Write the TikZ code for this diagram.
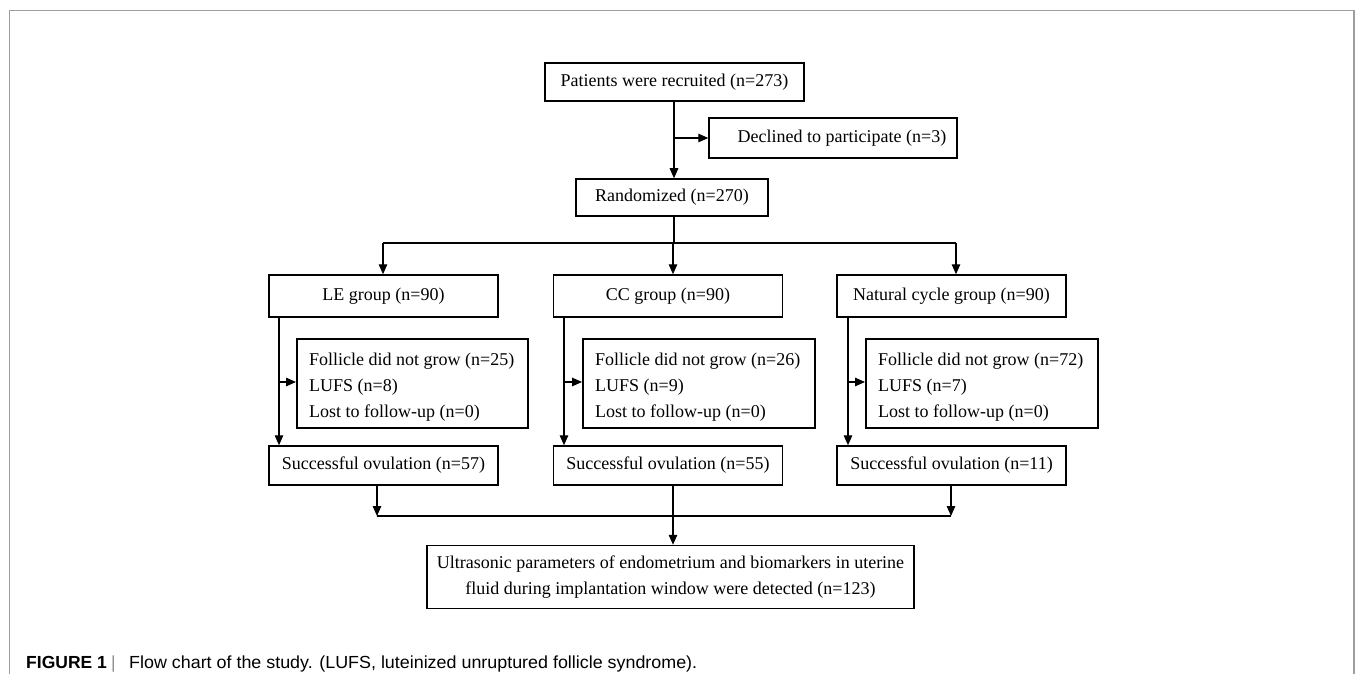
\documentclass[tikz,border=0pt]{standalone}
\usepackage{fontspec}
\setmainfont{Liberation Serif}
\newfontfamily\capfont{Liberation Sans}
\usetikzlibrary{arrows.meta}
\begin{document}
\begin{tikzpicture}[x=1pt,y=-1pt,
  box/.style={draw=black,line width=1.5pt,inner sep=0pt,font=\fontsize{18}{26}\selectfont},
  listtext/.style={anchor=west,align=left,inner sep=0pt,font=\fontsize{18}{26}\selectfont},
  conn/.style={line width=1.4pt,draw=black},
  arr/.style={conn,-{Triangle[length=10pt,width=8.5pt]}},
  frame/.style={draw=black!38,line width=1.6pt}]
\useasboundingbox (0,0) rectangle (1355,674);
\fill[white] (0,0) rectangle (1355,674);
\draw[frame] (9.5,674) -- (9.5,10.5) -- (1354,10.5) -- (1354,674);

% top part
\node[box,minimum width=259pt,minimum height=38pt] (pat) at (674.5,82) {Patients were recruited (n=273)};
\node[box,minimum width=248pt,minimum height=40pt] (dec) at (833,138) {\hspace*{18pt}Declined to participate (n=3)};
\node[box,minimum width=192pt,minimum height=37pt] (ran) at (672,197.5) {Randomized (n=270)};

% groups
\node[box,minimum width=229pt,minimum height=42pt] (le) at (383.5,296) {LE group (n=90)};
\node[box,minimum width=229pt,minimum height=42pt] (cc) at (668,296) {CC group (n=90)};
\node[box,minimum width=229pt,minimum height=42pt] (nc) at (951.5,296) {Natural cycle group (n=90)};

% exclusion boxes
\node[box,anchor=north west,minimum width=231pt,minimum height=89pt] (lex) at (296,338) {};
\node[listtext] (lext) at (309,387) {Follicle did not grow (n=25)\\LUFS (n=8)\\Lost to follow-up (n=0)};
\node[box,anchor=north west,minimum width=232pt,minimum height=89pt] (ccx) at (582,338) {};
\node[listtext] (ccxt) at (595,387) {Follicle did not grow (n=26)\\LUFS (n=9)\\Lost to follow-up (n=0)};
\node[box,anchor=north west,minimum width=232pt,minimum height=89pt] (ncx) at (865,338) {};
\node[listtext] (ncxt) at (878,387) {Follicle did not grow (n=72)\\LUFS (n=7)\\Lost to follow-up (n=0)};

% successful
\node[box,minimum width=229pt,minimum height=39pt] (les) at (383.5,465.5) {Successful ovulation (n=57)};
\node[box,minimum width=229pt,minimum height=39pt] (ccs) at (668,465.5) {Successful ovulation (n=55)};
\node[box,minimum width=229pt,minimum height=39pt] (ncs) at (951.5,465.5) {Successful ovulation (n=11)};

% final
\node[box,minimum width=487pt,minimum height=63pt,align=center] (fin) at (670.5,577) {Ultrasonic parameters of endometrium and biomarkers in uterine\\fluid during implantation window were detected (n=123)};

% coordinates
\coordinate (pb) at (674,101);
\coordinate (dj) at (674,138);
\coordinate (rb) at (674,216);
\coordinate (bj) at (674,243);
\coordinate (bl) at (383,243);
\coordinate (bm) at (673,243);
\coordinate (br) at (956,243);
\coordinate (lt) at (377,485);
\coordinate (mt) at (673,485);
\coordinate (rt) at (951,485);
\coordinate (lb) at (377,516);
\coordinate (rbb) at (951,516);

% connectors top
\draw[arr] (pb) -- (pb |- ran.north);
\draw[arr] (dj) -- (dj -| dec.west);
\draw[conn] (rb) -- (bj);
\draw[conn] (bl) -- (br);
\draw[arr] (bl) -- (bl |- le.north);
\draw[arr] (bm) -- (bm |- cc.north);
\draw[arr] (br) -- (br |- nc.north);

% side connectors
\foreach \x/\s/\xv in {lex/les/279,ccx/ccs/564,ncx/ncs/848}{
  \coordinate (vt) at (\xv,317);
  \coordinate (vm) at (\xv,382);
  \draw[arr] (vt) -- (vt |- \s.north);
  \draw[arr] (vm) -- (vm -| \x.west);
}

% lower connectors
\draw[arr] (lt) -- (lb);
\draw[arr] (rt) -- (rbb);
\draw[conn] (lb) -- (rbb);
\draw[arr] (mt) -- (mt |- fin.north);

% caption
\node[anchor=base west,inner sep=0pt,font=\capfont\fontsize{17.5}{20}\selectfont] (cap) at (26,668)
  {\textbf{FIGURE 1}};
\node[anchor=base west,inner sep=0pt,font=\capfont\fontsize{17.5}{20}\selectfont,text=black!45] (bar) at (111,668) {|};
\node[anchor=base west,inner sep=0pt,font=\capfont\fontsize{17.5}{20}\selectfont] (capt) at (129,668)
  {\resizebox{568pt}{\height}{Flow chart of the study. (LUFS, luteinized unruptured follicle syndrome).}};
\end{tikzpicture}
\end{document}
